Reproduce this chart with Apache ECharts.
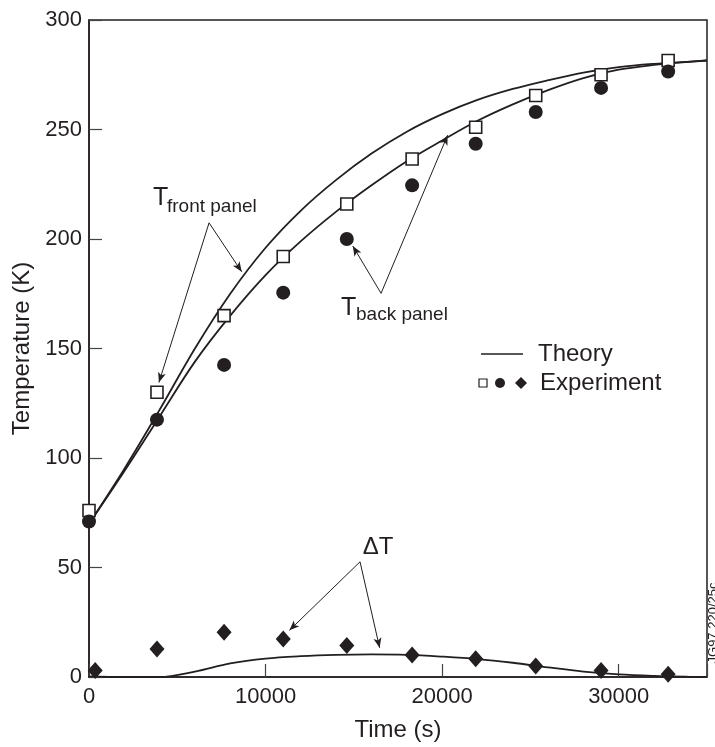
<!DOCTYPE html>
<html>
<head>
<meta charset="utf-8">
<script src="https://cdn.jsdelivr.net/npm/echarts@6/dist/echarts.min.js"></script>
<style>
  html, body { margin: 0; padding: 0; background: #ffffff; }
  #chart { width: 715px; height: 747px; }
</style>
</head>
<body>
<div id="chart"></div>
<script>
// Model curves (theory), sampled in seconds
const theoryTime = [0, 2000, 4000, 6000, 8000, 10000, 12000, 14000, 16000, 18000,
                    20000, 22000, 24000, 26000, 28000, 30000, 32000, 34000, 35000];
const frontTheory = [70, 95, 122, 150, 175, 196, 213, 227, 239, 249,
                     257, 263.5, 268.5, 272.5, 276, 278.5, 280, 281, 281.5];
const backTheory = [70, 94, 119, 144, 165, 183.5, 199, 212.5, 224.5, 235.5,
                    245, 254, 261.5, 268, 273.5, 277.3, 279.5, 280.9, 281.5];
const deltaTheory = [0.3, 0, 0, 2.5, 6.2, 8.4, 9.5, 10.1, 10.3, 10.1,
                     9.3, 8.2, 6.5, 4.4, 2.5, 1.2, 0.5, 0.1, 0];

// Measured temperatures
const expTime = [0, 3850, 7650, 11000, 14600, 18300, 21900, 25300, 29000, 32800];
const frontExp = [76, 130, 165, 192, 216, 236.5, 251, 265.5, 275, 281.5];
const backExp = [71, 117.5, 142.5, 175.5, 200, 224.5, 243.5, 258, 269, 276.5];
const deltaTime = [350, 3850, 7650, 11000, 14600, 18300, 21900, 25300, 29000, 32800];
const deltaExp = [3, 12.8, 20.4, 17.4, 14.4, 10.1, 8.3, 5.0, 3.0, 1.2];

// Axis tick labels
const xTicks = [0, 10000, 20000, 30000];
const yTicks = [0, 50, 100, 150, 200, 250, 300];

const FONT = '"Liberation Sans", Arial, Helvetica, sans-serif';
const INK = '#231f20';

const pairs = (xs, ys) => xs.map((x, i) => [x, ys[i]]);

// Callout arrows in data units: [from, to]
const arrows = [
  [[6800, 207.4], [8650, 185.0]],
  [[6800, 207.4], [3960, 134.5]],
  [[16540, 175.2], [14940, 196.8]],
  [[16540, 175.2], [20310, 247.4]],
  [[15350, 52.6], [11350, 21.3]],
  [[15350, 52.6], [16460, 13.3]]
];

const chart = echarts.init(document.getElementById('chart'), null, { renderer: 'canvas' });

const theoryLine = (name, ys) => ({
  name, type: 'line', data: pairs(theoryTime, ys), smooth: 0.35,
  showSymbol: false, symbol: 'none', silent: true, animation: false, clip: false,
  lineStyle: { color: INK, width: 1.8, opacity: 1 }, z: 2
});

const markStyle = (extra) => Object.assign({ color: INK, opacity: 1 }, extra);

chart.setOption({
  animation: false,
  backgroundColor: '#ffffff',
  textStyle: { fontFamily: FONT, color: INK },
  grid: {
    left: 89, right: 8, top: 20, bottom: 66,
    show: true, borderColor: INK, borderWidth: 1.5, backgroundColor: 'transparent'
  },
  xAxis: {
    type: 'value', min: 0, max: 35000, interval: 10000,
    name: 'Time (s)', nameLocation: 'middle', nameGap: 41,
    nameTextStyle: { fontSize: 24, color: INK, fontFamily: FONT },
    axisLine: { show: true, lineStyle: { color: INK, width: 1.5 } },
    axisTick: { show: true, inside: true, length: 13, lineStyle: { color: '#444', width: 1.2 } },
    axisLabel: {
      fontSize: 22, color: INK, fontFamily: FONT, margin: 9,
      formatter: (v) => (xTicks.indexOf(v) >= 0 ? String(v) : '')
    },
    splitLine: { show: false }
  },
  yAxis: {
    type: 'value', min: 0, max: 300, interval: 50,
    name: 'Temperature (K)', nameLocation: 'middle', nameGap: 47, nameRotate: 90,
    nameTextStyle: { fontSize: 24, color: INK, fontFamily: FONT },
    axisLine: { show: true, lineStyle: { color: INK, width: 1.5 } },
    axisTick: { show: true, inside: true, length: 13, lineStyle: { color: '#444', width: 1.2 } },
    axisLabel: {
      fontSize: 22, color: INK, fontFamily: FONT, margin: 7,
      formatter: (v) => (yTicks.indexOf(v) >= 0 ? String(v) : '')
    },
    splitLine: { show: false }
  },
  series: [
    theoryLine('Front theory', frontTheory),
    theoryLine('Back theory', backTheory),
    theoryLine('Delta theory', deltaTheory),
    {
      name: 'Front panel', type: 'scatter', data: pairs(expTime, frontExp),
      symbol: 'rect', symbolSize: 12, clip: false, z: 4,
      itemStyle: { color: '#ffffff', borderColor: INK, borderWidth: 1.6, opacity: 1 }
    },
    {
      name: 'Back panel', type: 'scatter', data: pairs(expTime, backExp),
      symbol: 'circle', symbolSize: 14, clip: false, z: 4,
      itemStyle: markStyle({})
    },
    {
      name: 'Delta T', type: 'scatter', data: pairs(deltaTime, deltaExp),
      symbol: 'diamond', symbolSize: [15, 17], clip: false, z: 4,
      itemStyle: markStyle({})
    },
    {
      name: 'Callouts', type: 'line', data: [], silent: true, z: 3,
      markLine: {
        silent: true, animation: false,
        symbol: ['none', 'arrow'], symbolSize: [6, 10],
        label: { show: false },
        lineStyle: { color: INK, width: 1, type: 'solid', opacity: 1 },
        emphasis: { disabled: true },
        data: arrows.map(([a, b]) => [{ coord: a }, { coord: b }])
      }
    }
  ],
  graphic: [
    // curve labels
    { type: 'text', x: 153, y: 198, style: { text: 'T', font: '25px ' + FONT, fill: INK, textAlign: 'left', textVerticalAlign: 'middle' } },
    { type: 'text', x: 167, y: 207, style: { text: 'front panel', font: '19px ' + FONT, fill: INK, textAlign: 'left', textVerticalAlign: 'middle' } },
    { type: 'text', x: 341, y: 308, style: { text: 'T', font: '25px ' + FONT, fill: INK, textAlign: 'left', textVerticalAlign: 'middle' } },
    { type: 'text', x: 356, y: 315, style: { text: 'back panel', font: '19px ' + FONT, fill: INK, textAlign: 'left', textVerticalAlign: 'middle' } },
    { type: 'text', x: 378, y: 547, style: { text: 'ΔT', font: '24px ' + FONT, fill: INK, textAlign: 'center', textVerticalAlign: 'middle' } },
    // key
    { type: 'line', shape: { x1: 481, y1: 354, x2: 523, y2: 354 }, style: { stroke: INK, lineWidth: 1.5 } },
    { type: 'text', x: 538, y: 354, style: { text: 'Theory', font: '24px ' + FONT, fill: INK, textAlign: 'left', textVerticalAlign: 'middle' } },
    { type: 'rect', shape: { x: 479, y: 379, width: 8, height: 8 }, style: { fill: '#ffffff', stroke: INK, lineWidth: 1.2 } },
    { type: 'circle', shape: { cx: 500, cy: 383, r: 5 }, style: { fill: INK } },
    { type: 'polygon', shape: { points: [[521, 377], [527, 383], [521, 389], [515, 383]] }, style: { fill: INK } },
    { type: 'text', x: 540, y: 383, style: { text: 'Experiment', font: '24px ' + FONT, fill: INK, textAlign: 'left', textVerticalAlign: 'middle' } },
    // figure reference code along the right edge
    { type: 'text', x: 713, y: 623, rotation: Math.PI / 2,
      style: { text: 'JG97 220/25c', font: '13px ' + FONT, fill: INK, textAlign: 'center', textVerticalAlign: 'middle' } }
  ]
});
</script>
</body>
</html>
